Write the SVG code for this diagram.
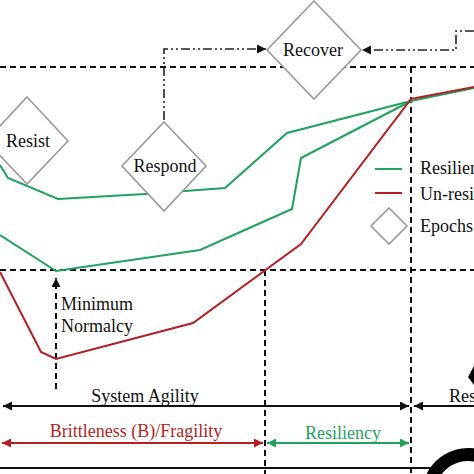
<svg xmlns="http://www.w3.org/2000/svg" width="474" height="474" viewBox="0 0 474 474">
<defs>
<style>
.dash{fill:none;stroke:#111;stroke-width:2;stroke-dasharray:6 4}
.dd{fill:none;stroke:#222;stroke-width:1.6;stroke-dasharray:9 3 2 3 2 3}
.g{fill:none;stroke:#1fa35c;stroke-width:2}
.r{fill:none;stroke:#b41f24;stroke-width:2}
.dia{fill:#fff;stroke:#999;stroke-width:1.6}
text{font-family:"Liberation Serif","Times New Roman",serif;font-size:18px;fill:#111}
.tr{fill:#b41f24}
.tg{fill:#1fa35c}
</style>
<marker id="ak" viewBox="0 0 10 10" refX="10" refY="5" markerWidth="9" markerHeight="9" markerUnits="userSpaceOnUse" orient="auto-start-reverse"><path d="M0,0L10,5L0,10z" fill="#111"/></marker>
<marker id="ar" viewBox="0 0 10 10" refX="10" refY="5" markerWidth="9" markerHeight="9" markerUnits="userSpaceOnUse" orient="auto-start-reverse"><path d="M0,0L10,5L0,10z" fill="#b41f24"/></marker>
<marker id="ag" viewBox="0 0 10 10" refX="10" refY="5" markerWidth="9" markerHeight="9" markerUnits="userSpaceOnUse" orient="auto-start-reverse"><path d="M0,0L10,5L0,10z" fill="#1fa35c"/></marker>
</defs>
<rect width="474" height="474" fill="#fff"/>
<g id="connectors">
<path class="dash" d="M0,67H474"/>
<path class="dash" d="M0,270H474"/>
<path class="dash" d="M411,67V474"/>
<path class="dash" d="M265,270V474"/>
<path class="dash" d="M56,389V278" marker-end="url(#ak)"/>
<path class="dd" d="M164,120V49H266" marker-end="url(#ak)"/>
<path class="dd" d="M474,31H456V50H362" marker-end="url(#ak)"/>
<path class="g" d="M0,165L8,178L58,199L145,194L225,188L287,133L411,101L474,88"/>
<path class="g" d="M0,235L56,271L200,250L292,209L301,158L411,101"/>
<path class="r" d="M0,272L41,352L56,359L193,323L301,244L411,99L474,87"/>
<path fill="none" stroke="#111" stroke-width="2" d="M3,406H409" marker-start="url(#ak)" marker-end="url(#ak)"/>
<path fill="none" stroke="#111" stroke-width="2" d="M474,406H414" marker-end="url(#ak)"/>
<path fill="none" stroke="#b41f24" stroke-width="2" d="M2,443H263" marker-start="url(#ar)" marker-end="url(#ar)"/>
<path fill="none" stroke="#1fa35c" stroke-width="2" d="M267,443H409" marker-start="url(#ag)" marker-end="url(#ag)"/>
<path fill="none" stroke="#111" stroke-width="2" d="M0,468H432"/>
<path fill="none" stroke="#000" stroke-width="13" d="M431,480A40,40 0 0 1 500,470"/>
<path fill="#000" d="M474,366L468,377L474,385z"/>
</g>
<g id="resist"><path class="dia" d="M27,97L68,141L27,184L-14,141z"/><text x="28" y="147" text-anchor="middle">Resist</text></g>
<g id="respond"><path class="dia" d="M164,122L206,166L164,211L122,166z"/><text x="165" y="172" text-anchor="middle">Respond</text></g>
<g id="recover"><path class="dia" d="M314,1L361,50L314,99L267,50z"/><text x="313" y="56" text-anchor="middle">Recover</text></g>
<g id="legend">
<path class="g" d="M375,169H402"/>
<path class="r" d="M375,193H402"/>
<path class="dia" d="M389,208L407,226L389,244L371,226z"/>
<text x="420" y="174">Resilient</text>
<text x="420" y="200">Un-resilient</text>
<text x="420" y="232">Epochs</text>
</g>
<g id="labels">
<text x="61" y="310">Minimum</text>
<text x="61" y="332">Normalcy</text>
<text x="145" y="402" text-anchor="middle">System Agility</text>
<text x="449" y="402">Resilience</text>
<text class="tr" x="136" y="437" text-anchor="middle">Brittleness (B)/Fragility</text>
<text class="tg" x="343" y="439" text-anchor="middle">Resiliency</text>
</g>
</svg>
